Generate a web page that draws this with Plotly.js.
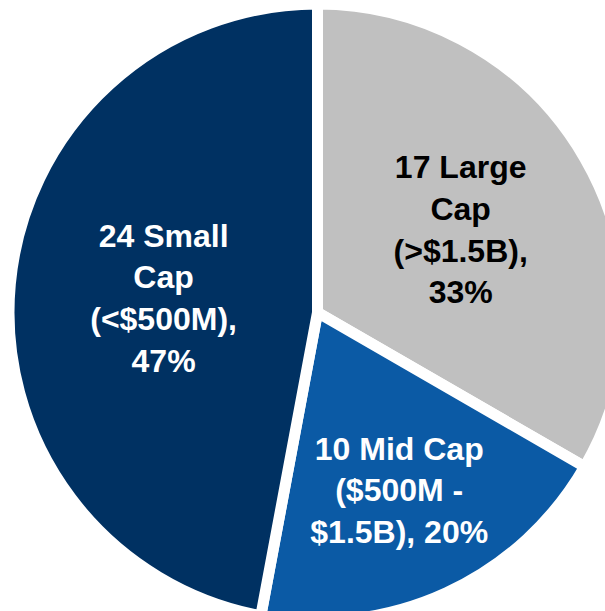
<!DOCTYPE html>
<html>
<head>
<meta charset="utf-8">
<script src="https://cdn.plot.ly/plotly-3.0.1.min.js"></script>
<style>
  html, body { margin: 0; padding: 0; overflow: hidden; background: #ffffff; }
  #chart { width: 640px; height: 640px; }
</style>
</head>
<body>
<div id="chart"></div>
<script>
// Data
const categories = ["Large Cap (>$1.5B)", "Mid Cap ($500M - $1.5B)", "Small Cap (<$500M)"];
const counts = [17, 10, 24];
const percentLabels = ["33%", "20%", "47%"];
const sliceLabels = [
  "17 Large<br>Cap<br>(>$1.5B),<br>33%",
  "10 Mid Cap<br>($500M -<br>$1.5B), 20%",
  "24 Small<br>Cap<br>(<$500M),<br>47%"
];
const sliceColors = ["#C0C0C0", "#0B5AA5", "#003162"];
const textColors = ["#000000", "#FFFFFF", "#FFFFFF"];

const trace = {
  type: "pie",
  labels: categories,
  values: counts,
  text: sliceLabels,
  textinfo: "text",
  hoverinfo: "label+value+percent",
  sort: false,
  direction: "clockwise",
  rotation: 0,
  marker: { colors: sliceColors, line: { color: "#FFFFFF", width: 11 } },
  textposition: "inside",
  insidetextorientation: "horizontal",
  textfont: { family: "Liberation Sans, Arial, sans-serif", size: 32, color: textColors, weight: "bold" }
};

const layout = {
  width: 640,
  height: 640,
  margin: { l: 9, r: 14, t: 4, b: 19 },
  showlegend: false,
  paper_bgcolor: "#FFFFFF",
  plot_bgcolor: "#FFFFFF",
  font: { family: "Liberation Sans, Arial, sans-serif" }
};

Plotly.newPlot("chart", [trace], layout, { displayModeBar: false, staticPlot: true });
</script>
</body>
</html>
